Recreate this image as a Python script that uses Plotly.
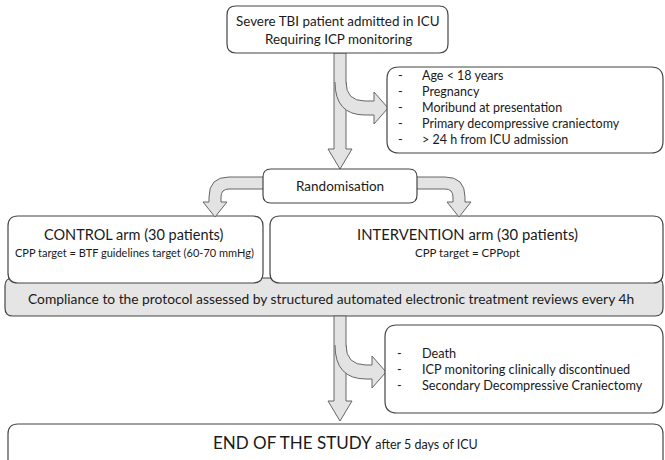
import plotly.graph_objects as go

# ---------------- content ----------------
top_lines = ["Severe TBI patient admitted in ICU", "Requiring ICP monitoring"]
exclusion_criteria = ["Age < 18 years", "Pregnancy", "Moribund at presentation",
                      "Primary decompressive craniectomy", "> 24 h from ICU admission"]
randomisation_label = "Randomisation"
control_title = "CONTROL arm (30 patients)"
control_sub = "CPP target = BTF guidelines target (60-70 mmHg)"
intervention_title = "INTERVENTION arm (30 patients)"
intervention_sub = "CPP target = CPPopt"
compliance_label = "Compliance to the protocol assessed by structured automated electronic treatment reviews every 4h"
withdrawal_criteria = ["Death", "ICP monitoring clinically discontinued", "Secondary Decompressive Craniectomy"]
end_big = "END OF THE STUDY"
end_small = "after 5 days of ICU"

# ---------------- styling ----------------
FONT = "Lato"
EDGE = "#454545"
ARROW_FILL = "#e3e3e3"
ARROW_EDGE = "#666666"
BAND_FILL = "#e5e5e5"
W, H = 665, 460

shapes = []
annotations = []


def rrect(x0, y0, x1, y1, r):
    return (f"M{x0+r},{y0} L{x1-r},{y0} Q{x1},{y0} {x1},{y0+r} L{x1},{y1-r} "
            f"Q{x1},{y1} {x1-r},{y1} L{x0+r},{y1} Q{x0},{y1} {x0},{y1-r} "
            f"L{x0},{y0+r} Q{x0},{y0} {x0+r},{y0} Z")


def box(x0, y0, x1, y1, r=9, fill="white", lw=1.2):
    shapes.append(dict(type="path", path=rrect(x0, y0, x1, y1, r),
                       fillcolor=fill, line=dict(color=EDGE, width=lw), layer="above"))


def fill_path(p, fill=ARROW_FILL):
    shapes.append(dict(type="path", path=p, fillcolor=fill, line=dict(width=0), layer="above"))


def stroke_path(p, color=ARROW_EDGE, w=1):
    shapes.append(dict(type="path", path=p, fillcolor="rgba(0,0,0,0)",
                       line=dict(color=color, width=w), layer="above"))


def text(x, y, s, size=12.5, anchor="center", color="#1a1a1a"):
    annotations.append(dict(x=x, y=y, xref="x", yref="y", text=s, showarrow=False,
                            xanchor=anchor, yanchor="middle",
                            font=dict(family=FONT, size=size, color=color)))


def down_arrow(cx, y0, y_tip, half=6, head_half=12, head_len=20):
    yb = y_tip - head_len
    p = (f"M{cx-half},{y0} L{cx+half},{y0} L{cx+half},{yb} L{cx+head_half},{yb} "
         f"L{cx},{y_tip} L{cx-head_half},{yb} L{cx-half},{yb} Z")
    fill_path(p)
    stroke_path(p)


def branch_right(cx, y_start, yc, x_tip, half=7, head_half=16, head_len=14):
    # curved branch leaving a vertical shaft toward the right
    xl, xr = cx - 6, cx + 6
    top, bot = yc - half, yc + half
    xb = x_tip - head_len
    r_in = top - y_start
    body = (f"M{xr},{y_start} Q{xr},{top} {xr+r_in},{top} L{xb},{top} L{xb},{yc-head_half} "
            f"L{x_tip},{yc} L{xb},{yc+head_half} L{xb},{bot} L{xr+r_in},{bot} "
            f"Q{xl+1},{bot} {xl+1},{y_start}")
    fill_path(body + " Z")
    stroke_path(body)


def turn_down(x_start, yc, cx, y_tip, direction, half=6, head_half=12, head_len=15,
              r_out=20, r_in=8):
    # horizontal band leaving a box side, turning down into an arrow
    top, bot = yc - half, yc + half
    xo = cx + direction * half   # outer vertical edge
    xi = cx - direction * half   # inner vertical edge
    yb = y_tip - head_len
    p = (f"M{x_start},{top} L{xo - direction*r_out},{top} "
         f"Q{xo},{top} {xo},{top + r_out} "
         f"L{xo},{yb} L{cx + direction*head_half},{yb} L{cx},{y_tip} "
         f"L{cx - direction*head_half},{yb} L{xi},{yb} "
         f"L{xi},{bot + r_in} Q{xi},{bot} {xi - direction*r_in},{bot} L{x_start},{bot}")
    fill_path(p + " Z")
    stroke_path(p)


# ---------------- layout geometry ----------------
# gray compliance band (behind arms)
box(5, 278, 663, 316, r=8, fill=BAND_FILL)
box(8, 216, 263, 283, r=10)
box(270, 216, 663, 283, r=10)

# arrows
down_arrow(340, 53, 169)
branch_right(340, 82, 108, 388)
turn_down(264, 183, 215, 217, direction=-1)
turn_down(416, 183, 459, 217, direction=1)
down_arrow(340, 316, 421)
branch_right(340, 345, 372, 386)

# boxes
box(227, 6, 448, 53, r=9)
box(387, 67, 663, 153, r=12)
box(263, 169, 417, 203, r=8)
box(385, 325, 663, 413, r=12)
box(8, 424, 663, 475, r=10)

# texts
text(338, 21, top_lines[0], 13.4)
text(338, 39, top_lines[1], 13.4)
for i, s in enumerate(exclusion_criteria):
    y = 75 + 16 * i
    text(400, y, "-", 12.5)
    text(420, y, s, 12.5, anchor="left")
text(340, 186, randomisation_label, 13.5)
text(134, 234, control_title, 14.5)
text(134, 252, control_sub, 11)
text(467, 234, intervention_title, 14.8)
text(467, 252, intervention_sub, 11.5)
text(331, 298, compliance_label, 13.8)
for i, s in enumerate(withdrawal_criteria):
    y = 353 + 16 * i
    text(399, y, "-", 12.7)
    text(420, y, s, 12.7, anchor="left")
text(345, 442, f"<span style='font-size:17px'>{end_big}</span> <span style='font-size:12.5px'>{end_small}</span>", 17)

fig = go.Figure()
fig.update_layout(
    width=W, height=H,
    margin=dict(l=0, r=0, t=0, b=0),
    paper_bgcolor="white", plot_bgcolor="white",
    xaxis=dict(range=[0, W], visible=False, fixedrange=True),
    yaxis=dict(range=[H, 0], visible=False, fixedrange=True),
    shapes=shapes, annotations=annotations, showlegend=False,
)
fig.write_html("out.html", config={"displayModeBar": False},
               post_script="document.body.style.margin='0';document.body.style.overflow='hidden';")
